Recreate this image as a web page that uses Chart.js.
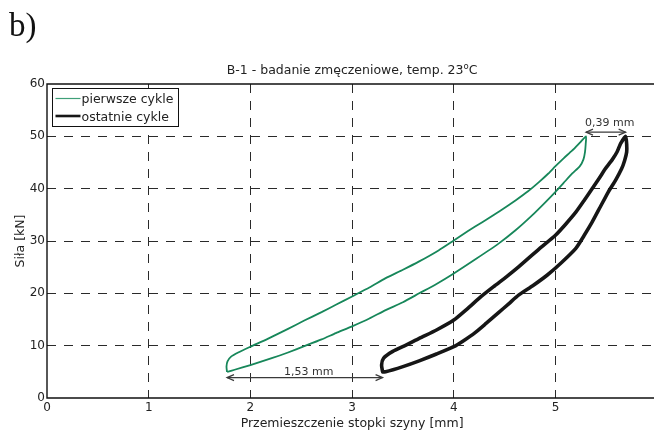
<!DOCTYPE html>
<html>
<head>
<meta charset="utf-8">
<script src="https://cdn.jsdelivr.net/npm/chart.js@4.4.0/dist/chart.umd.min.js"></script>
<style>
  html, body { margin: 0; padding: 0; background: #fff; overflow: hidden; }
  #wrap { position: relative; width: 654px; height: 430px; overflow: hidden; }
  #wrap canvas { position: absolute; left: 0; top: 0; }
</style>
</head>
<body>
<div id="wrap"><canvas id="c" width="664" height="430" style="width:664px;height:430px"></canvas></div>
<script>
// Hysteresis loops from the B-1 fatigue test (displacement in mm, force in kN)
const seriesLabels = ['pierwsze cykle', 'ostatnie cykle'];

// first cycles: loading branch up to the peak, then unloading branch back down
const firstDisp = [
  1.77, 1.765, 1.775, 1.81, 1.88, 2.00, 2.17, 2.37, 2.53, 2.70, 2.85, 3.00, 3.17, 3.33,
  3.50, 3.66, 3.85, 4.00, 4.14, 4.28, 4.45, 4.61, 4.73, 4.84, 4.93, 5.00, 5.08, 5.165, 5.24, 5.30,
  5.297, 5.29, 5.275, 5.24, 5.165, 5.08, 5.00, 4.89, 4.77, 4.61, 4.44, 4.22, 4.00, 3.83,
  3.66, 3.50, 3.33, 3.17, 3.00, 2.84, 2.70, 2.53, 2.37, 2.21, 2.00, 1.845, 1.79, 1.77
];
const firstForce = [
  5.0, 6.0, 7.0, 7.9, 8.7, 9.8, 11.3, 13.2, 14.8, 16.4, 17.9, 19.4, 21.1, 22.9,
  24.5, 26.1, 28.2, 30.1, 31.9, 33.6, 35.7, 37.8, 39.5, 41.3, 42.9, 44.3, 45.8, 47.3, 48.8, 50.0,
  48.5, 47.0, 45.6, 44.3, 42.9, 41.1, 39.4, 37.2, 34.9, 32.1, 29.5, 26.6, 23.8, 21.8,
  20.0, 18.3, 16.8, 15.2, 13.7, 12.4, 11.2, 9.9, 8.7, 7.6, 6.3, 5.4, 5.1, 5.0
];

// last cycles
const lastDisp = [
  3.30, 3.29, 3.31, 3.40, 3.53, 3.66, 3.83, 4.00, 4.13, 4.27, 4.40, 4.52, 4.64, 4.84,
  5.00, 5.10, 5.20, 5.28, 5.36, 5.43, 5.49, 5.56, 5.605, 5.64, 5.69,
  5.70, 5.70, 5.68, 5.65, 5.59, 5.52, 5.44, 5.36, 5.28, 5.20, 5.06, 4.92, 4.78, 4.64,
  4.54, 4.44, 4.32, 4.21, 4.10, 4.00, 3.83, 3.66, 3.50, 3.33, 3.30
];
const lastForce = [
  5.0, 6.3, 7.6, 8.9, 10.1, 11.4, 13.0, 14.9, 17.0, 19.4, 21.4, 23.2, 25.1, 28.5,
  31.1, 33.2, 35.5, 37.7, 40.0, 42.0, 43.8, 45.6, 47.0, 48.6, 50.0,
  48.5, 47.0, 45.4, 43.8, 41.6, 39.4, 36.5, 33.6, 31.0, 28.6, 25.9, 23.5, 21.5, 19.7,
  18.0, 16.3, 14.3, 12.5, 11.0, 9.8, 8.4, 7.1, 6.0, 5.0, 5.0
];

// axis ticks
const xTicks = [0, 1, 2, 3, 4, 5, 6];
const yTicks = [0, 10, 20, 30, 40, 50, 60];

// measured shifts between the loops: start (mm), width (mm), force level of the arrow (kN)
const gapFrom = [1.77, 5.30];
const gapWidth = [1.53, 0.39];
const gapForce = [3.9, 50.8];

const toPoints = (xs, ys) => xs.map((x, i) => ({ x: x, y: ys[i] }));

const FONT = 'DejaVu Sans';
const TEXT = '#222';
const GREEN = '#17875a';
const BLACK = '#161616';

function arrowHead(ctx, x, y, dir) {
  ctx.beginPath();
  ctx.moveTo(x - dir * 7, y - 3);
  ctx.lineTo(x, y);
  ctx.lineTo(x - dir * 7, y + 3);
  ctx.stroke();
}

const figureText = {
  id: 'figureText',
  afterDraw(chart) {
    const ctx = chart.ctx;
    const a = chart.chartArea;
    const xs = chart.scales.x, ys = chart.scales.y;
    ctx.save();

    // panel letter
    ctx.fillStyle = '#111';
    ctx.font = '33px "Liberation Serif"';
    ctx.textAlign = 'left';
    ctx.textBaseline = 'alphabetic';
    ctx.fillText('b)', 9, 36);

    // title with superscript degree sign
    const cx = (a.left + a.right) / 2;
    ctx.fillStyle = TEXT;
    const main = 'B-1 - badanie zmęczeniowe, temp. 23';
    ctx.font = '12.5px "' + FONT + '"';
    const wMain = ctx.measureText(main).width;
    const wC = ctx.measureText('C').width;
    ctx.font = '8.5px "' + FONT + '"';
    const wO = ctx.measureText('o').width;
    let tx = cx - (wMain + wO + wC) / 2;
    const tb = 73.5;
    ctx.font = '12.5px "' + FONT + '"';
    ctx.fillText(main, tx, tb);
    tx += wMain;
    ctx.font = '8.5px "' + FONT + '"';
    ctx.fillText('o', tx, tb - 5);
    tx += wO;
    ctx.font = '12.5px "' + FONT + '"';
    ctx.fillText('C', tx, tb);

    // axis titles
    ctx.textAlign = 'center';
    ctx.fillText('Przemieszczenie stopki szyny [mm]', cx, 427);
    ctx.save();
    ctx.translate(23.5, (a.top + a.bottom) / 2);
    ctx.rotate(-Math.PI / 2);
    ctx.fillText('Siła [kN]', 0, 0);
    ctx.restore();

    // plot frame
    ctx.strokeStyle = '#111';
    ctx.lineWidth = 1.4;
    ctx.beginPath();
    ctx.moveTo(a.right, a.top);
    ctx.lineTo(a.left, a.top);
    ctx.lineTo(a.left, a.bottom);
    ctx.lineTo(a.right, a.bottom);
    ctx.stroke();

    // shift arrows with labels
    ctx.strokeStyle = '#3a3a3a';
    ctx.fillStyle = '#333';
    ctx.lineWidth = 1.2;
    ctx.font = '11px "' + FONT + '"';
    ctx.textAlign = 'center';
    const labelGap = [2.5, 6];
    gapFrom.forEach((x0, i) => {
      const x1 = x0 + gapWidth[i];
      const px0 = xs.getPixelForValue(x0);
      const px1 = xs.getPixelForValue(x1);
      const py = ys.getPixelForValue(gapForce[i]);
      ctx.beginPath();
      ctx.moveTo(px0, py);
      ctx.lineTo(px1, py);
      ctx.stroke();
      arrowHead(ctx, px0, py, -1);
      arrowHead(ctx, px1, py, 1);
      const label = gapWidth[i].toFixed(2).replace('.', ',') + ' mm';
      ctx.fillText(label, (px0 + px1) / 2 + 4, py - labelGap[i]);
    });

    // legend
    const lx = a.left + 5.5, ly = a.top + 4.5;
    ctx.fillStyle = '#fff';
    ctx.fillRect(lx, ly, 126, 38);
    ctx.strokeStyle = '#111';
    ctx.lineWidth = 1;
    ctx.strokeRect(lx, ly, 126, 38);
    const rows = [ly + 10, ly + 27.5];
    const lw = [1.2, 2.6];
    const lc = ['#3f9f78', BLACK];
    ctx.font = '12.5px "' + FONT + '"';
    ctx.textAlign = 'left';
    ctx.fillStyle = TEXT;
    seriesLabels.forEach((lab, i) => {
      ctx.strokeStyle = lc[i];
      ctx.lineWidth = lw[i];
      ctx.beginPath();
      ctx.moveTo(lx + 3, rows[i]);
      ctx.lineTo(lx + 28, rows[i]);
      ctx.stroke();
      ctx.fillText(lab, lx + 29, rows[i] + 4.5);
    });

    ctx.restore();
  }
};

const gridColor = (c) => {
  const v = c.tick && c.tick.value;
  return (v === 0 || v === 60) ? 'rgba(0,0,0,0)' : '#2a2a2a';
};

new Chart(document.getElementById('c'), {
  type: 'scatter',
  data: {
    datasets: [
      {
        label: seriesLabels[1],
        data: toPoints(lastDisp, lastForce),
        showLine: true,
        borderColor: BLACK,
        borderWidth: 3.6,
        pointRadius: 0,
        tension: 0.2,
        borderJoinStyle: 'round',
        borderCapStyle: 'round'
      },
      {
        label: seriesLabels[0],
        data: toPoints(firstDisp, firstForce),
        showLine: true,
        borderColor: GREEN,
        borderWidth: 1.8,
        pointRadius: 0,
        tension: 0.2,
        borderJoinStyle: 'round'
      }
    ]
  },
  options: {
    responsive: false,
    animation: false,
    events: [],
    layout: { padding: { left: 0, top: 84, right: 6, bottom: 0 } },
    plugins: { legend: { display: false }, title: { display: false }, tooltip: { enabled: false } },
    scales: {
      x: {
        type: 'linear',
        min: 0, max: 6,
        afterBuildTicks: (s) => { s.ticks = xTicks.map(v => ({ value: v })); },
        afterFit: (s) => { s.height = 32; },
        grid: { color: gridColor, lineWidth: 1, drawTicks: false },
        border: { display: false, dash: [9, 8] },
        ticks: { padding: 3, color: TEXT, font: { family: FONT, size: 12 }, maxRotation: 0 }
      },
      y: {
        type: 'linear',
        min: 0, max: 60,
        afterBuildTicks: (s) => { s.ticks = yTicks.map(v => ({ value: v })); },
        afterFit: (s) => { s.width = 47; },
        grid: { color: gridColor, lineWidth: 1, drawTicks: false },
        border: { display: false, dash: [9, 8] },
        ticks: { padding: 2, color: TEXT, font: { family: FONT, size: 12 } }
      }
    }
  },
  plugins: [figureText]
});
</script>
</body>
</html>
